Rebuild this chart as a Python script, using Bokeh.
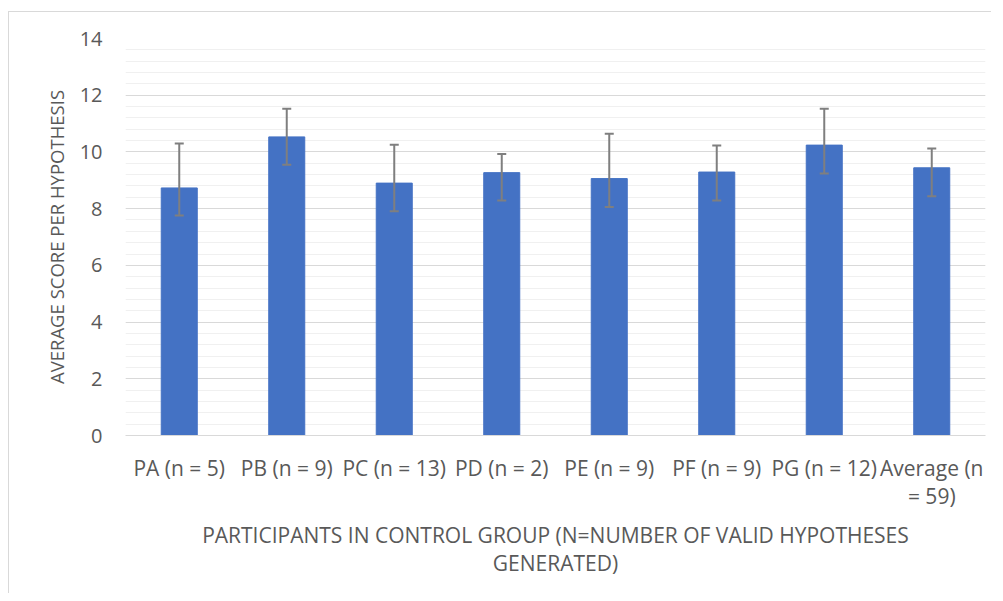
from bokeh.plotting import figure
from bokeh.models import ColumnDataSource, Whisker, TeeHead, SingleIntervalTicker, FactorRange, Range1d
from bokeh.embed import file_html
from bokeh.resources import INLINE

categories = ["PA (n = 5)", "PB (n = 9)", "PC (n = 13)", "PD (n = 2)",
              "PE (n = 9)", "PF (n = 9)", "PG (n = 12)", "Average (n\n= 59)"]
values = [8.73, 10.53, 8.90, 9.27, 9.06, 9.29, 10.24, 9.44]
upper = [10.30, 11.52, 10.25, 9.93, 10.64, 10.23, 11.52, 10.12]
lower = [7.76, 9.55, 7.91, 8.29, 8.06, 8.29, 9.24, 8.44]

FONT = "Open Sans"
TXT = "#595959"

src = ColumnDataSource(dict(cat=categories, val=values, up=upper, lo=lower))

p = figure(x_range=FactorRange(*categories), y_range=Range1d(0, 14),
           width=983, height=582, output_backend="svg", toolbar_location=None,
           min_border_left=116, min_border_right=7, min_border_top=26, min_border_bottom=159)
p.margin = (11, 0, 0, 8)
p.styles = {"border-top": "1px solid #d9d9d9", "border-left": "1px solid #d9d9d9"}
p.outline_line_color = None
p.background_fill_color = "white"
p.border_fill_color = "white"

p.vbar(x="cat", top="val", bottom=0, width=0.335, source=src,
       fill_color="#4472C4", line_color="#4472C4")

w = Whisker(base="cat", upper="up", lower="lo", source=src,
            line_color="#7f7f7f", line_width=2, level="overlay",
            upper_head=TeeHead(size=9, line_color="#7f7f7f", line_width=2),
            lower_head=TeeHead(size=9, line_color="#7f7f7f", line_width=2))
p.add_layout(w)

p.yaxis.ticker = SingleIntervalTicker(interval=2, num_minor_ticks=5)
p.ygrid.grid_line_color = "#d9d9d9"
p.ygrid.grid_line_width = 1
p.ygrid.minor_grid_line_color = "#f0f0f0"
p.ygrid.minor_grid_line_width = 1
p.xgrid.grid_line_color = None

p.yaxis.axis_line_color = None
p.yaxis.major_tick_line_color = None
p.yaxis.minor_tick_line_color = None
p.yaxis.major_label_standoff = 17
p.yaxis.major_label_text_font = FONT
p.yaxis.major_label_text_font_size = "20px"
p.yaxis.major_label_text_color = TXT
p.yaxis.axis_label = "AVERAGE SCORE PER HYPOTHESIS"
p.yaxis.axis_label_text_font = FONT
p.yaxis.axis_label_text_font_size = "18.5px"
p.yaxis.axis_label_text_font_style = "normal"
p.yaxis.axis_label_text_color = TXT
p.yaxis.axis_label_standoff = 8

p.xaxis.axis_line_color = "#d9d9d9"
p.xaxis.axis_line_width = 1
p.xaxis.major_tick_line_color = None
p.xaxis.minor_tick_line_color = None
p.xaxis.major_label_standoff = 12
p.xaxis.major_label_text_font = FONT
p.xaxis.major_label_text_font_size = "21px"
p.xaxis.major_label_text_color = TXT
p.xaxis.major_label_text_line_height = 1.0
p.xaxis.major_label_orientation = "horizontal"
p.xaxis.axis_label = "PARTICIPANTS IN CONTROL GROUP (N=NUMBER OF VALID HYPOTHESES\nGENERATED)"
p.xaxis.axis_label_text_font = FONT
p.xaxis.axis_label_text_font_size = "21px"
p.xaxis.axis_label_text_font_style = "normal"
p.xaxis.axis_label_text_color = TXT
p.xaxis.axis_label_text_line_height = 1.0
p.xaxis.axis_label_standoff = 8
p.xaxis.axis_label_text_align = "center"

open("out.html", "w").write(file_html(p, INLINE))
